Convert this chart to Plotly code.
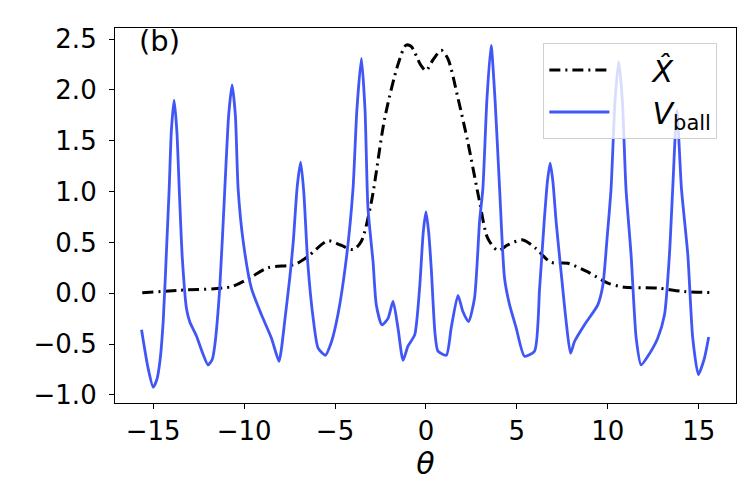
import plotly.graph_objects as go

# X-hat curve (dash-dot, black)
theta_x = [-15.6, -13.5, -10.7, -9.6, -8.7, -7.2, -6.5, -5.4, -4.7, -4.0, -3.56,
           -3.0, -2.27, -1.54, -1.1, -0.82, -0.3, 0.0, 0.4, 0.84, 1.2, 1.76, 2.3,
           2.95, 3.4, 3.96, 4.5, 5.33, 6.05, 6.87, 7.8, 8.9, 10.0, 10.9, 12.75, 14.2, 15.6]
x_hat = [0.005, 0.03, 0.065, 0.16, 0.25, 0.285, 0.36, 0.515, 0.475, 0.43, 0.51,
         0.9, 1.72, 2.25, 2.44, 2.43, 2.25, 2.19, 2.3, 2.39, 2.31, 1.92, 1.49,
         0.9, 0.54, 0.42, 0.475, 0.525, 0.44, 0.305, 0.295, 0.21, 0.1, 0.06, 0.05, 0.017, 0.007]

# V_ball curve (solid, blue)
theta_v = [-15.64, -15.3, -15.0, -14.8, -14.63, -14.45, -14.25, -14.12, -14.0, -13.85,
           -13.7, -13.55, -13.4, -13.17, -12.99, -12.62, -12.3, -11.98, -11.75, -11.61,
           -11.34, -11.06, -10.85, -10.66, -10.48, -10.33, -10.05, -9.6, -9.05, -8.5,
           -8.08, -7.95, -7.77, -7.49, -7.3, -7.08, -6.89, -6.72, -6.5, -6.2,
           -5.93, -5.53, -5.2, -4.84, -4.38, -4.01, -3.8, -3.55, -3.35, -3.19,
           -2.91, -2.73, -2.42, -2.09, -1.81, -1.54, -1.26, -0.99, -0.62, -0.35,
           -0.15, 0.0, 0.15, 0.29, 0.5, 0.66, 1.12, 1.39, 1.76, 2.03,
           2.34, 2.67, 2.95, 3.13, 3.35, 3.58, 3.8, 4.05, 4.32, 4.6,
           4.96, 5.42, 5.97, 6.25, 6.5, 6.68, 6.83, 6.98, 7.16, 7.43,
           7.71, 7.95, 8.17, 8.72, 9.45, 9.73, 9.96, 10.18, 10.4, 10.6,
           10.8, 11.0, 11.28, 11.56, 11.83, 12.2, 12.75, 13.12, 13.39, 13.57,
           13.8, 14.05, 14.4, 14.67, 14.98, 15.31, 15.55]
v_ball = [-0.36, -0.72, -0.925, -0.85, -0.67, -0.28, 0.5, 1.03, 1.6, 1.90,
          1.6, 0.95, 0.35, -0.15, -0.28, -0.42, -0.58, -0.705, -0.65, -0.51,
          0.05, 1.03, 1.75, 2.05, 1.75, 1.03, 0.51, 0.05, -0.21, -0.44,
          -0.67, -0.55, -0.28, 0.15, 0.5, 1.05, 1.29, 1.0, 0.3, -0.25,
          -0.54, -0.61, -0.48, -0.21, 0.34, 1.03, 1.8, 2.31, 1.8, 0.84,
          0.31, -0.115, -0.31, -0.25, -0.08, -0.34, -0.66, -0.52, -0.41, 0.05,
          0.6, 0.80, 0.6, 0.25, -0.4, -0.57, -0.61, -0.34, -0.02, -0.18,
          -0.28, -0.05, 0.71, 1.03, 1.9, 2.44, 1.9, 1.03, 0.15, -0.115,
          -0.34, -0.62, -0.57, 0.05, 0.7, 1.1, 1.28, 1.1, 0.7, 0.21,
          -0.28, -0.59, -0.475, -0.31, -0.115, 0.08, 0.54, 1.03, 1.9, 2.28,
          1.9, 1.03, 0.38, -0.44, -0.705, -0.62, -0.44, -0.21, 0.38, 1.03,
          1.80, 1.03, 0.38, -0.44, -0.80, -0.64, -0.43]

fig = go.Figure()

fig.add_trace(go.Scatter(
    x=theta_x, y=x_hat, mode="lines", name="    <i>X̂</i>  ",
    line=dict(color="black", width=3, dash="11px,5px,2px,5px", shape="spline", smoothing=0.8),
))
fig.add_trace(go.Scatter(
    x=theta_v, y=v_ball, mode="lines", name="    <i>V</i><sub>ball</sub>",
    line=dict(color="#4157f5", width=2.8, shape="spline", smoothing=0.6),
))

fig.add_annotation(
    text="(b)", x=0.036, y=1.0, xref="paper", yref="paper", yshift=6,
    xanchor="left", yanchor="top", showarrow=False,
    font=dict(size=29, color="black"),
)

axis_common = dict(
    showline=True, linecolor="black", linewidth=1.2, mirror=True,
    ticks="outside", ticklen=5, tickcolor="black", showgrid=False, zeroline=False,
    tickfont=dict(size=26, color="black"),
)

fig.update_layout(
    width=747, height=498,
    plot_bgcolor="white", paper_bgcolor="white",
    font=dict(family="DejaVu Sans", color="black"),
    margin=dict(l=107, r=19, t=20, b=103),
    xaxis=dict(range=[-17.1, 17.05], tickvals=[-15, -10, -5, 0, 5, 10, 15],
               ticktext=["−15", "−10", "−5", "0", "5", "10", "15"],
               title=dict(text="<i>θ</i>", font=dict(size=30), standoff=4), **axis_common),
    yaxis=dict(range=[-1.08, 2.61], tickvals=[-1.0, -0.5, 0.0, 0.5, 1.0, 1.5, 2.0, 2.5],
               ticktext=["−1.0", "−0.5", "0.0", "0.5", "1.0", "1.5", "2.0", "2.5"],
               ticklabelstandoff=7, **axis_common),
    legend=dict(x=0.97, y=0.96, xanchor="right", yanchor="top",
                bgcolor="rgba(255,255,255,0.8)", bordercolor="#d0d0d0", borderwidth=1,
                font=dict(size=30), itemwidth=60, tracegroupgap=4),
    showlegend=True,
)

fig.write_html("out.html")
